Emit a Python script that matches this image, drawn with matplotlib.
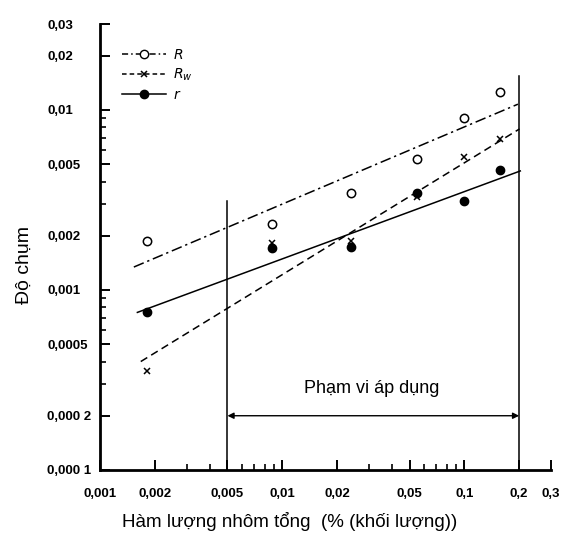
import matplotlib.pyplot as plt
from matplotlib.lines import Line2D
from matplotlib.ticker import FixedLocator, NullFormatter

# Measured points (x = total Al, % mass)
x_pts = [0.0018, 0.0088, 0.024, 0.055, 0.10, 0.158]
R_pts = [0.00187, 0.00233, 0.00345, 0.00534, 0.0090, 0.0126]
Rw_pts = [0.000355, 0.00183, 0.00187, 0.00327, 0.0055, 0.0069]
r_pts = [0.00075, 0.0017, 0.00173, 0.00345, 0.00312, 0.00464]

# Fitted lines (end points)
R_fit_x = [0.00153, 0.197]
R_fit_y = [0.00134, 0.01076]
Rw_fit_x = [0.00167, 0.201]
Rw_fit_y = [0.0004, 0.00784]
r_fit_x = [0.0016, 0.203]
r_fit_y = [0.00075, 0.00458]

# Range of application
range_lo, range_hi = 0.005, 0.2
range_lo_top, range_hi_top = 0.0031, 0.0154

xticks = [0.001, 0.002, 0.005, 0.01, 0.02, 0.05, 0.1, 0.2, 0.3]
xticklabels = ['0,001', '0,002', '0,005', '0,01', '0,02', '0,05', '0,1', '0,2', '0,3']
yticks = [0.0001, 0.0002, 0.0005, 0.001, 0.002, 0.005, 0.01, 0.02, 0.03]
yticklabels = ['0,000 1', '0,000 2', '0,0005', '0,001', '0,002', '0,005', '0,01', '0,02', '0,03']

plt.rcParams['font.family'] = ['Liberation Sans', 'DejaVu Sans']

fig = plt.figure(figsize=(5.63, 5.34), dpi=100)
ax = fig.add_axes([0.178, 0.12, 0.801, 0.835])
ax.set_xscale('log')
ax.set_yscale('log')
ax.set_xlim(0.001, 0.3)
ax.set_ylim(0.0001, 0.03)

lw = 1.1
ax.plot(R_fit_x, R_fit_y, color='black', lw=lw, ls=(0, (7, 2.5, 1.5, 2.5)))
ax.plot(Rw_fit_x, Rw_fit_y, color='black', lw=lw, ls=(0, (5, 3)))
ax.plot(r_fit_x, r_fit_y, color='black', lw=lw, ls='-')

ax.plot(x_pts, R_pts, ls='none', marker='o', ms=6, mfc='white', mec='black', mew=1.1)
ax.plot(x_pts, r_pts, ls='none', marker='o', ms=6, mfc='black', mec='black')
ax.plot(x_pts, Rw_pts, ls='none', marker='x', ms=4.5, color='black', mew=1.1)

# range of application
ax.plot([range_lo, range_lo], [0.0001, range_lo_top], color='black', lw=1.1)
ax.plot([range_hi, range_hi], [0.0001, range_hi_top], color='black', lw=1.1)
ax.annotate('', xy=(range_lo, 0.0002), xytext=(range_hi, 0.0002),
            arrowprops=dict(arrowstyle='<|-|>', color='black', lw=1.0,
                            mutation_scale=9, shrinkA=0, shrinkB=0))
ax.text(0.031, 0.000285, 'Phạm vi áp dụng', ha='center', va='center', fontsize=13)

handles = [
    Line2D([], [], color='black', lw=lw, ls=(0, (4, 2, 1, 2)), marker='o', ms=6,
           mfc='white', mec='black'),
    Line2D([], [], color='black', lw=lw, ls=(0, (3, 2)), marker='x', ms=4.5, mew=1.1),
    Line2D([], [], color='black', lw=lw, ls='-', marker='o', ms=6, mfc='black'),
]
ax.legend(handles, ['$R$', '$R_w$', '$r$'], loc='upper left',
          bbox_to_anchor=(0.02, 0.975), frameon=False, handlelength=3.2,
          fontsize=10, labelspacing=0.35, handletextpad=0.5)

for s in ['top', 'right']:
    ax.spines[s].set_visible(False)
for s in ['left', 'bottom']:
    ax.spines[s].set_linewidth(2.0)

ax.xaxis.set_major_locator(FixedLocator(xticks))
ax.xaxis.set_major_formatter(plt.FixedFormatter(xticklabels))
ax.yaxis.set_major_locator(FixedLocator(yticks))
ax.yaxis.set_major_formatter(plt.FixedFormatter(yticklabels))
ax.xaxis.set_minor_formatter(NullFormatter())
ax.yaxis.set_minor_formatter(NullFormatter())
ax.tick_params(which='major', direction='in', length=7, width=1.4, labelsize=9.5)
ax.tick_params(axis='x', which='major', pad=13)
ax.tick_params(axis='y', which='major', pad=38)
ax.tick_params(which='minor', direction='in', length=4, width=1.2)
for lab in ax.get_xticklabels() + ax.get_yticklabels():
    lab.set_fontweight('bold')
for lab in ax.get_yticklabels():
    lab.set_horizontalalignment('left')

ax.set_xlabel('Hàm lượng nhôm tổng  (% (khối lượng))', fontsize=13.5)
ax.set_ylabel('Độ chụm', fontsize=14)
ax.xaxis.set_label_coords(0.421, -0.094)
ax.yaxis.set_label_coords(-0.15, 0.46)

fig.savefig('out.png', dpi=100)
